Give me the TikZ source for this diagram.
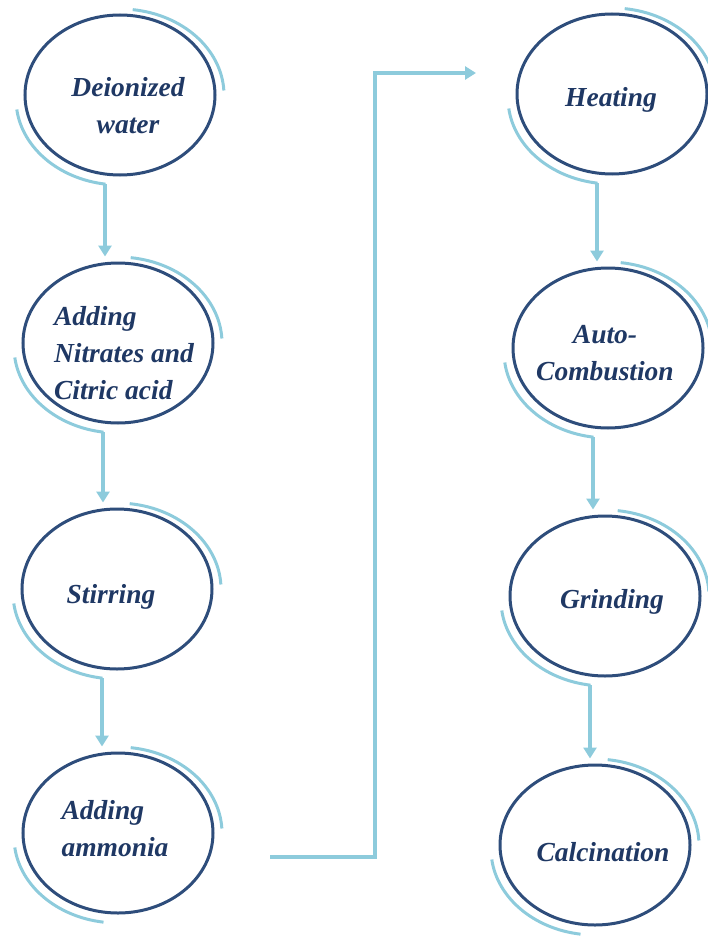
\documentclass[tikz,border=0pt]{standalone}
\usepackage{fontspec}
\setmainfont{Liberation Serif}
\usetikzlibrary{shapes.geometric,arrows.meta}
\definecolor{ringblue}{HTML}{2E4D7B}
\definecolor{glowblue}{HTML}{8DCBDC}
\definecolor{inkblue}{HTML}{1F3864}
\tikzset{
  stage/.style={ellipse, draw=ringblue, line width=3pt, minimum width=190pt, minimum height=160pt, inner sep=0pt},
  glow/.style={draw=glowblue, line width=3pt},
  flow/.style={draw=glowblue, line width=3.2pt, -{Triangle[length=11pt,width=13pt]}, shorten >=5pt},
  word/.style={text=inkblue, font=\fontsize{27.5}{37}\selectfont\bfseries\itshape, inner sep=0pt, align=center}
}
\begin{document}
\begin{tikzpicture}[x=1pt, y=1pt]
        \useasboundingbox (0,0) rectangle (708,-936);
        \node [stage] (water) at (120,-95) {};
        \node [stage] (nitrate) at (118,-343) {};
        \node [stage] (stir) at (117,-589) {};
        \node [stage] (ammonia) at (118,-833) {};
        \node [stage] (heat) at (612,-94) {};
        \node [stage] (combust) at (608,-348) {};
        \node [stage] (grind) at (605,-596) {};
        \node [stage] (calcine) at (595,-845) {};
        \node [word] (waterT) at (128,-106) {Deionized\\water};
        \node [word, align=left] (nitrateT) at (124,-353) {Adding\\Nitrates and\\Citric acid};
        \node [word] (stirT) at (111,-597) {Stirring};
        \node [word, align=left] (ammoniaT) at (115,-829) {Adding\\ammonia};
        \node [word] (heatT) at (611,-100) {Heating};
        \node [word] (combustT) at (605,-353) {Auto-\\Combustion};
        \node [word] (grindT) at (612,-602) {Grinding};
        \node [word] (calcineT) at (603,-852) {Calcination};
        \draw [glow] (water.center) ++(83:104 and 86) arc [start angle=83, end angle=3, x radius=104, y radius=86];
        \draw [glow] ([yshift=-4pt]water.center) ++(187:104 and 86) arc [start angle=187, end angle=262, x radius=104, y radius=86];
        \draw [glow] (nitrate.center) ++(83:104 and 86) arc [start angle=83, end angle=3, x radius=104, y radius=86];
        \draw [glow] ([yshift=-4pt]nitrate.center) ++(187:104 and 86) arc [start angle=187, end angle=262, x radius=104, y radius=86];
        \draw [glow] (stir.center) ++(83:104 and 86) arc [start angle=83, end angle=3, x radius=104, y radius=86];
        \draw [glow] ([yshift=-4pt]stir.center) ++(187:104 and 86) arc [start angle=187, end angle=262, x radius=104, y radius=86];
        \draw [glow] (ammonia.center) ++(83:104 and 86) arc [start angle=83, end angle=3, x radius=104, y radius=86];
        \draw [glow] ([yshift=-4pt]ammonia.center) ++(187:104 and 86) arc [start angle=187, end angle=262, x radius=104, y radius=86];
        \draw [glow] (heat.center) ++(83:104 and 86) arc [start angle=83, end angle=3, x radius=104, y radius=86];
        \draw [glow] ([yshift=-4pt]heat.center) ++(187:104 and 86) arc [start angle=187, end angle=262, x radius=104, y radius=86];
        \draw [glow] (combust.center) ++(83:104 and 86) arc [start angle=83, end angle=3, x radius=104, y radius=86];
        \draw [glow] ([yshift=-4pt]combust.center) ++(187:104 and 86) arc [start angle=187, end angle=262, x radius=104, y radius=86];
        \draw [glow] (grind.center) ++(83:104 and 86) arc [start angle=83, end angle=3, x radius=104, y radius=86];
        \draw [glow] ([yshift=-4pt]grind.center) ++(187:104 and 86) arc [start angle=187, end angle=262, x radius=104, y radius=86];
        \draw [glow] (calcine.center) ++(83:104 and 86) arc [start angle=83, end angle=3, x radius=104, y radius=86];
        \draw [glow] ([yshift=-4pt]calcine.center) ++(187:104 and 86) arc [start angle=187, end angle=262, x radius=104, y radius=86];
        \coordinate (waterOut) at ([shift={(-15,-89)}]water.center);
        \coordinate (nitrateOut) at ([shift={(-15,-89)}]nitrate.center);
        \coordinate (stirOut) at ([shift={(-15,-89)}]stir.center);
        \coordinate (heatOut) at ([shift={(-15,-89)}]heat.center);
        \coordinate (combustOut) at ([shift={(-15,-89)}]combust.center);
        \coordinate (grindOut) at ([shift={(-15,-89)}]grind.center);
        \coordinate (ammoniaOut) at (270,-857);
        \coordinate (heatIn) at (476,-73);
        \draw [flow] (waterOut) -- (waterOut |- nitrate.north);
        \draw [flow] (nitrateOut) -- (nitrateOut |- stir.north);
        \draw [flow] (stirOut) -- (stirOut |- ammonia.north);
        \draw [flow] (heatOut) -- (heatOut |- combust.north);
        \draw [flow] (combustOut) -- (combustOut |- grind.north);
        \draw [flow] (grindOut) -- (grindOut |- calcine.north);
        \draw [flow, shorten >=0pt] (ammoniaOut) -- ++(105,0) |- (heatIn);
      \end{tikzpicture}
\end{document}
